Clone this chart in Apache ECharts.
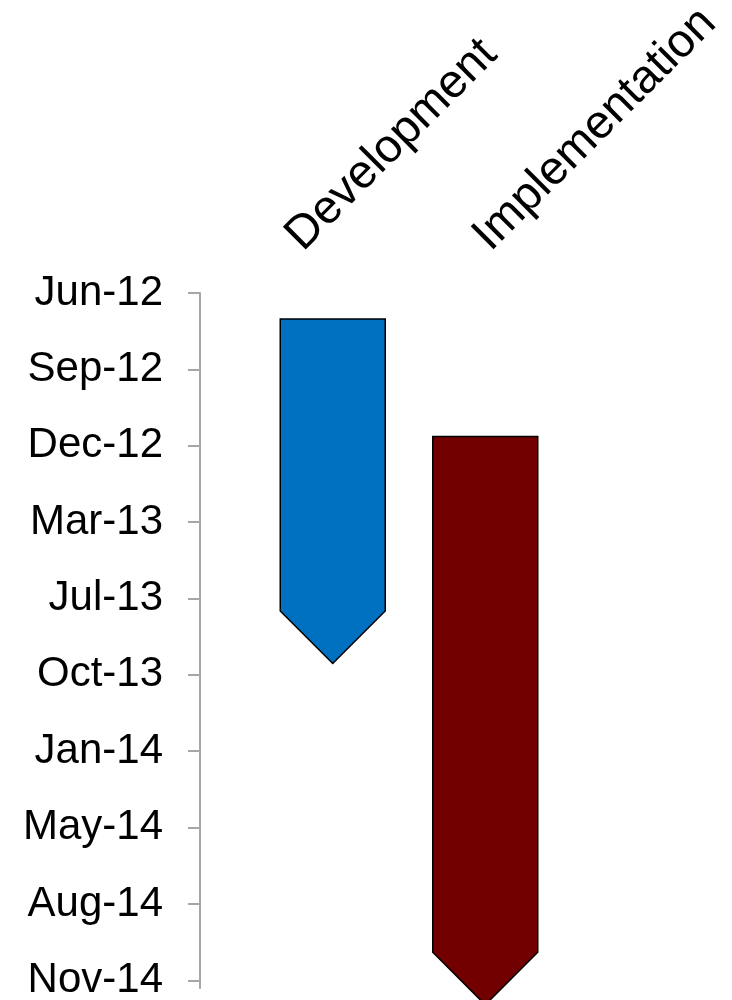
<!DOCTYPE html>
<html>
<head>
<meta charset="utf-8">
<script src="https://cdn.jsdelivr.net/npm/echarts@6/dist/echarts.min.js"></script>
<style>html,body{margin:0;padding:0;background:#fff}</style>
</head>
<body>
<div id="chart" style="width:732px;height:1000px"></div>
<script>
// phases of the project (gantt arrows)
var phases = ['Development', 'Implementation'];
var phaseStart = ['2012-07-05', '2012-12-06'];
var phaseEnd = ['2013-09-29', '2014-12-20'];   // arrow tip
var phaseColors = ['#0070C0', '#720000'];

// date axis: origin + ticks every 100 days
var axisOrigin = '2012-06-01';
var tickDays = [0, 100, 200, 300, 400, 500, 600, 700, 800, 900];
var axisMaxDays = 910;

var monthNames = ['Jan','Feb','Mar','Apr','May','Jun','Jul','Aug','Sep','Oct','Nov','Dec'];
var DAY = 86400000;
var originMs = Date.parse(axisOrigin);

function toDays(d) {
  return (Date.parse(d) - originMs) / DAY;
}
function dayLabel(v) {
  var d = new Date(originMs + v * DAY);
  return monthNames[d.getUTCMonth()] + '-' + String(d.getUTCFullYear()).slice(2);
}

var barWidth = 105;
var barShift = [39, 4];  // px offset of arrow from label anchor

var seriesData = phases.map(function (p, i) {
  return [i, toDays(phaseStart[i]), toDays(phaseEnd[i])];
});

var chart = echarts.init(document.getElementById('chart'));

chart.setOption({
  animation: false,
  grid: {
    left: 200,
    right: 157,
    top: 293,
    bottom: 12,
    outerBoundsMode: 'none'
  },
  xAxis: {
    type: 'category',
    position: 'top',
    data: phases,
    axisLine: { show: false },
    axisTick: { show: false },
    axisLabel: {
      rotate: 45,
      margin: 50,
      interval: 0,
      fontSize: 47,
      fontFamily: 'Liberation Sans, Arial, sans-serif',
      color: '#000'
    }
  },
  yAxis: {
    type: 'value',
    inverse: true,
    min: 0,
    max: axisMaxDays,
    interval: 100,
    splitLine: { show: false },
    axisLine: { show: true, lineStyle: { color: '#a6a6a6', width: 2 } },
    axisTick: {
      show: true,
      length: 12,
      customValues: tickDays,
      lineStyle: { color: '#a6a6a6', width: 2 }
    },
    axisLabel: {
      customValues: tickDays,
      margin: 37,
      fontSize: 42,
      fontFamily: 'Liberation Sans, Arial, sans-serif',
      color: '#000',
      formatter: dayLabel
    }
  },
  series: [{
    type: 'custom',
    data: seriesData,
    encode: { x: 0, y: [1, 2] },
    renderItem: function (params, api) {
      var i = api.value(0);
      var top = api.coord([i, api.value(1)]);
      var bot = api.coord([i, api.value(2)]);
      var cx = top[0] + barShift[i];
      var hw = barWidth / 2;
      var neck = bot[1] - hw;
      return {
        type: 'polygon',
        shape: {
          points: [[cx - hw, top[1]], [cx + hw, top[1]], [cx + hw, neck], [cx, bot[1]], [cx - hw, neck]]
        },
        style: { fill: phaseColors[i], stroke: '#000', lineWidth: 1.5 }
      };
    }
  }]
});
</script>
</body>
</html>
